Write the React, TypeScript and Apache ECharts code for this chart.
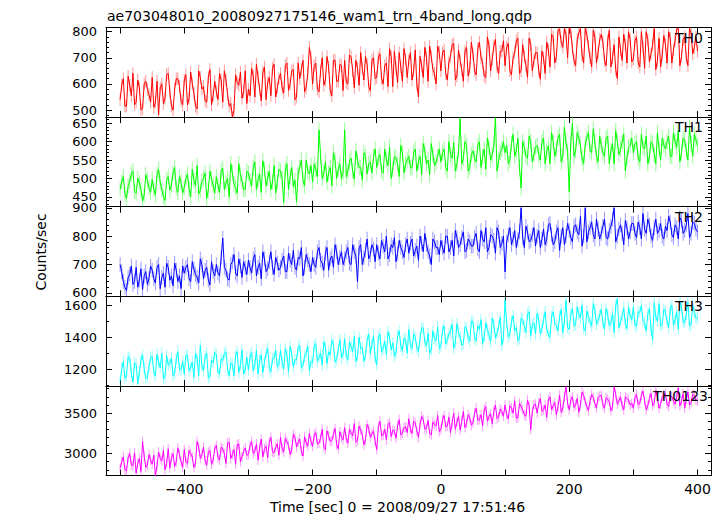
import { useEffect, useRef } from "react";
import * as echarts from "echarts";

const titleText = "ae703048010_20080927175146_wam1_trn_4band_long.qdp";
const xName = "Time [sec] 0 = 2008/09/27 17:51:46";
const yName = "Counts/sec";
const bands = ["TH0", "TH1", "TH2", "TH3", "TH0123"];
const colors = ["#ff0000", "#00ff00", "#0000ff", "#00ffff", "#ff00ff"];
// samples at t = -500, -495, ... (main) and t = -497.5, -492.5, ... (mid)
const tStart = -500;
const tStep = 5;

const th0 = [
  540, 620, 515, 595, 640, 530, 585, 505, 610, 560,
  625, 530, 482, 600, 545, 640, 515, 580, 620, 535,
  615, 520, 645, 565, 505, 625, 590, 530, 655, 555,
  570, 640, 530, 615, 515, 472, 635, 595, 545, 650,
  580, 660, 550, 625, 535, 665, 605, 555, 675, 585,
  640, 565, 680, 600, 655, 550, 620, 690, 585, 740,
  600, 680, 570, 700, 615, 665, 555, 690, 610, 670,
  690, 600, 705, 585, 660, 720, 615, 675, 575, 700,
  625, 715, 600, 680, 735, 590, 660, 720, 610, 695,
  690, 615, 730, 550, 670, 740, 610, 705, 640, 745,
  650, 730, 615, 705, 755, 630, 690, 610, 740, 660,
  715, 635, 760, 680, 625, 745, 695, 770, 640, 725,
  670, 755, 635, 720, 775, 650, 705, 625, 750, 690,
  720, 618, 700, 760, 665, 780, 705, 810, 740, 790,
  815, 735, 670, 795, 710, 812, 745, 665, 780, 720,
  790, 690, 765, 665, 750, 620, 730, 790, 680, 770,
  695, 780, 665, 740, 800, 685, 750, 655, 775, 710,
  750, 800, 680, 765, 812, 705, 780, 670, 795, 740,
  725,
];
const th0Mid = [
  595, 515, 630, 555, 520, 615, 500, 600, 580, 530,
  510, 610, 585, 525, 635, 570, 500, 620, 590, 520,
  635, 545, 600, 515, 650, 580, 535, 625, 520, 610,
  540, 615, 650, 560, 525, 500, 605, 645, 570, 525,
  555, 630, 675, 580, 645, 540, 625, 660, 550, 620,
  585, 670, 575, 650, 540, 680, 655, 570, 640, 700,
  670, 580, 650, 595, 705, 575, 690, 610, 675, 575,
  605, 710, 650, 690, 595, 660, 705, 590, 690, 620,
  700, 620, 670, 590, 705, 725, 605, 665, 735, 625,
  720, 650, 600, 705, 625, 700, 745, 655, 600, 720,
  720, 640, 685, 750, 615, 730, 655, 725, 630, 760,
  650, 735, 700, 630, 780, 650, 745, 665, 725, 765,
  740, 650, 700, 765, 640, 750, 670, 775, 650, 720,
  650, 725, 640, 730, 790, 680, 805, 760, 812, 700,
  800, 690, 770, 812, 680, 790, 700, 805, 680, 770,
  760, 670, 805, 700, 655, 780, 690, 750, 800, 685,
  765, 680, 800, 660, 770, 715, 812, 690, 665, 785,
  680, 775, 730, 810, 670, 770, 700, 812, 715, 780,
];

const th1 = [
  470, 505, 445, 492, 520, 460, 488, 438, 510, 475,
  498, 455, 525, 470, 440, 505, 482, 530, 462, 490,
  475, 512, 450, 495, 535, 468, 500, 445, 520, 482,
  505, 462, 528, 488, 450, 515, 475, 540, 492, 470,
  515, 480, 545, 495, 462, 525, 500, 470, 535, 490,
  520, 435, 540, 505, 478, 436, 530, 495, 550, 512,
  490, 525, 632, 500, 545, 515, 480, 550, 525, 500,
  632, 520, 555, 498, 548, 530, 570, 512, 545, 560,
  530, 565, 515, 550, 585, 525, 555, 505, 570, 540,
  560, 528, 580, 545, 510, 575, 550, 595, 535, 560,
  545, 580, 520, 565, 598, 540, 663, 555, 590, 530,
  575, 545, 600, 560, 525, 585, 565, 665, 550, 580,
  570, 540, 595, 560, 610, 474, 585, 555, 600, 565,
  590, 550, 610, 575, 540, 600, 580, 620, 560, 595,
  464, 650, 575, 610, 555, 595, 625, 570, 600, 545,
  590, 560, 615, 575, 540, 600, 580, 620, 555, 590,
  570, 600, 545, 585, 615, 560, 595, 540, 580, 610,
  580, 615, 560, 600, 630, 570, 605, 550, 595, 620,
  590,
];
const th1Mid = [
  490, 458, 480, 512, 465, 500, 470, 455, 495, 462,
  470, 510, 488, 450, 495, 468, 515, 475, 505, 460,
  500, 470, 525, 480, 458, 492, 515, 470, 498, 460,
  480, 520, 470, 500, 540, 485, 460, 510, 470, 520,
  495, 530, 470, 512, 548, 480, 520, 490, 460, 525,
  500, 525, 470, 530, 495, 515, 550, 480, 520, 535,
  540, 505, 560, 515, 490, 530, 570, 500, 540, 515,
  505, 545, 520, 575, 530, 495, 560, 540, 515, 580,
  555, 520, 580, 535, 500, 560, 540, 590, 515, 550,
  530, 570, 520, 560, 595, 540, 510, 565, 545, 580,
  570, 530, 600, 555, 520, 575, 540, 600, 520, 565,
  555, 590, 530, 580, 610, 550, 590, 520, 570, 600,
  590, 550, 620, 575, 530, 600, 560, 615, 545, 585,
  565, 600, 540, 590, 625, 560, 610, 545, 640, 575,
  600, 560, 625, 590, 540, 610, 575, 635, 560, 615,
  570, 610, 540, 595, 630, 565, 600, 520, 585, 610,
  595, 555, 620, 580, 540, 600, 565, 625, 550, 590,
  600, 560, 625, 585, 545, 610, 575, 640, 560, 605,
];

const th2 = [
  700, 640, 608, 665, 630, 690, 645, 612, 675, 650,
  680, 635, 700, 655, 620, 690, 660, 705, 640, 615,
  670, 700, 640, 685, 655, 720, 650, 690, 628, 675,
  700, 660, 793, 680, 645, 710, 670, 720, 655, 690,
  715, 670, 735, 690, 650, 720, 685, 745, 665, 705,
  690, 730, 675, 715, 750, 680, 720, 660, 735, 700,
  725, 690, 760, 705, 740, 680, 730, 770, 700, 745,
  720, 760, 700, 745, 639, 770, 725, 790, 735, 755,
  770, 720, 765, 800, 735, 760, 710, 785, 745, 770,
  740, 790, 750, 715, 775, 810, 745, 700, 780, 760,
  785, 740, 800, 760, 730, 795, 770, 815, 750, 780,
  765, 810, 745, 790, 830, 760, 800, 740, 815, 775,
  674, 805, 770, 820, 790, 900, 760, 815, 785, 830,
  800, 760, 825, 790, 845, 770, 815, 750, 830, 800,
  820, 780, 840, 805, 765, 900, 815, 850, 790, 825,
  810, 860, 790, 835, 900, 800, 840, 770, 830, 815,
  845, 795, 830, 880, 810, 840, 785, 860, 820, 800,
  835, 870, 805, 840, 790, 855, 820, 880, 810, 845,
  815,
];
const th2Mid = [
  675, 620, 655, 695, 640, 620, 685, 660, 630, 695,
  650, 690, 615, 670, 705, 645, 625, 680, 660, 695,
  690, 650, 710, 665, 635, 700, 680, 645, 710, 660,
  670, 725, 690, 650, 700, 735, 660, 695, 710, 665,
  690, 720, 660, 705, 745, 675, 710, 690, 725, 680,
  715, 675, 740, 700, 690, 725, 760, 690, 715, 675,
  700, 745, 715, 680, 760, 720, 690, 745, 725, 700,
  745, 705, 770, 730, 760, 700, 750, 720, 770, 710,
  740, 785, 745, 720, 770, 795, 740, 760, 725, 790,
  775, 730, 765, 800, 745, 770, 730, 790, 760, 735,
  760, 800, 745, 785, 820, 760, 795, 745, 790, 765,
  795, 755, 820, 780, 745, 805, 785, 830, 760, 800,
  780, 830, 790, 760, 815, 795, 835, 780, 805, 765,
  820, 790, 770, 840, 805, 780, 830, 800, 770, 845,
  795, 835, 815, 870, 800, 780, 830, 805, 860, 790,
  835, 795, 820, 860, 780, 825, 810, 855, 790, 845,
  810, 850, 790, 825, 860, 800, 830, 810, 845, 790,
  820, 850, 795, 830, 865, 810, 840, 795, 850, 825,
];

const th3 = [
  1130, 1250, 1160, 1270, 1120, 1230, 1185, 1290, 1140, 1215,
  1280, 1160, 1245, 1300, 1150, 1225, 1270, 1175, 1310, 1195,
  1170, 1285, 1210, 1150, 1265, 1350, 1190, 1300, 1155, 1240,
  1290, 1170, 1255, 1310, 1160, 1230, 1285, 1180, 1320, 1200,
  1195, 1305, 1230, 1170, 1290, 1245, 1330, 1185, 1270, 1215,
  1320, 1200, 1290, 1345, 1215, 1260, 1350, 1225, 1300, 1190,
  1240, 1360, 1275, 1225, 1340, 1310, 1380, 1245, 1325, 1270,
  1390, 1260, 1345, 1405, 1280, 1330, 1250, 1380, 1300, 1410,
  1228, 1420, 1330, 1290, 1400, 1365, 1300, 1440, 1315, 1385,
  1450, 1330, 1400, 1310, 1460, 1370, 1425, 1320, 1390, 1465,
  1340, 1470, 1385, 1440, 1330, 1485, 1400, 1360, 1455, 1375,
  1500, 1380, 1450, 1360, 1490, 1415, 1520, 1395, 1470, 1350,
  1632, 1400, 1500, 1440, 1380, 1520, 1465, 1545, 1410, 1490,
  1550, 1420, 1510, 1445, 1400, 1560, 1475, 1530, 1430, 1632,
  1450, 1580, 1480, 1545, 1600, 1440, 1525, 1470, 1570, 1505,
  1575, 1450, 1540, 1490, 1430, 1640, 1500, 1585, 1455, 1535,
  1590, 1470, 1555, 1500, 1440, 1580, 1383, 1525, 1610, 1480,
  1560, 1460, 1600, 1510, 1450, 1590, 1490, 1620, 1480, 1555,
  1520,
];
const th3Mid = [
  1200, 1145, 1280, 1175, 1240, 1110, 1260, 1205, 1150, 1275,
  1180, 1295, 1210, 1140, 1285, 1235, 1160, 1265, 1200, 1250,
  1290, 1190, 1245, 1300, 1160, 1220, 1280, 1145, 1255, 1305,
  1185, 1265, 1300, 1200, 1240, 1160, 1310, 1225, 1170, 1275,
  1280, 1190, 1320, 1255, 1180, 1300, 1210, 1265, 1320, 1230,
  1240, 1330, 1185, 1295, 1260, 1335, 1210, 1280, 1345, 1250,
  1345, 1250, 1300, 1370, 1235, 1290, 1355, 1260, 1385, 1295,
  1280, 1370, 1310, 1250, 1400, 1335, 1290, 1420, 1355, 1270,
  1400, 1310, 1375, 1435, 1320, 1280, 1410, 1345, 1395, 1300,
  1350, 1420, 1335, 1395, 1455, 1345, 1300, 1440, 1380, 1330,
  1445, 1360, 1420, 1480, 1370, 1430, 1350, 1465, 1395, 1500,
  1395, 1470, 1510, 1405, 1445, 1370, 1480, 1425, 1525, 1400,
  1490, 1420, 1535, 1460, 1395, 1510, 1430, 1560, 1480, 1420,
  1510, 1455, 1560, 1420, 1530, 1485, 1440, 1575, 1500, 1460,
  1545, 1470, 1590, 1520, 1455, 1565, 1495, 1610, 1480, 1540,
  1490, 1580, 1470, 1550, 1600, 1460, 1530, 1480, 1590, 1510,
  1475, 1560, 1600, 1490, 1545, 1455, 1615, 1500, 1470, 1575,
  1500, 1580, 1475, 1560, 1620, 1495, 1545, 1470, 1605, 1520,
];

const th0123 = [
  2820, 2960, 2790, 3000, 2850, 2760, 2940, 3150, 2830, 2990,
  2870, 2725, 3020, 2910, 2800, 3060, 2950, 2840, 3070, 2900,
  3050, 2880, 3000, 2830, 3150, 2940, 3080, 2860, 3040, 2920,
  3100, 2920, 3060, 2880, 3140, 2990, 2870, 3120, 2960, 3070,
  2990, 3150, 3030, 2920, 3180, 3060, 2950, 3200, 3010, 3120,
  3200, 3020, 3150, 2990, 3240, 3080, 3180, 2970, 3130, 3250,
  3090, 3260, 3130, 3300, 3050, 3220, 3160, 3310, 3060, 3200,
  3320, 3130, 3250, 3370, 3160, 3290, 3110, 3360, 3200, 3280,
  3050, 3400, 3230, 3170, 3380, 3290, 3190, 3420, 3250, 3330,
  3430, 3250, 3380, 3200, 3460, 3300, 3410, 3230, 3360, 3470,
  3300, 3470, 3340, 3260, 3500, 3390, 3290, 3520, 3370, 3440,
  3380, 3560, 3420, 3340, 3580, 3460, 3370, 3600, 3450, 3520,
  3600, 3430, 3560, 3650, 3440, 3580, 3480, 3660, 3295, 3600,
  3500, 3680, 3540, 3450, 3700, 3590, 3480, 3720, 3560, 3827,
  3540, 3700, 3600, 3510, 3760, 3640, 3530, 3730, 3620, 3690,
  3720, 3560, 3670, 3530, 3820, 3610, 3700, 3540, 3680, 3600,
  3560, 3730, 3620, 3770, 3540, 3680, 3590, 3780, 3560, 3700,
  3740, 3580, 3700, 3610, 3810, 3650, 3560, 3760, 3630, 3720,
  3650,
];
const th0123Mid = [
  2900, 2800, 2950, 2860, 3010, 2880, 2780, 2970, 2860, 2920,
  2980, 2850, 2940, 3040, 2880, 2820, 3000, 2900, 2990, 2830,
  2900, 3040, 2960, 2880, 3080, 2990, 2910, 3020, 2870, 3060,
  2950, 3080, 3000, 3130, 2940, 3050, 3110, 2900, 3030, 2980,
  3100, 3000, 3120, 3070, 2960, 3090, 3140, 3020, 3080, 2980,
  3060, 3190, 3100, 3050, 3200, 3140, 3030, 3210, 3090, 3150,
  3230, 3120, 3190, 3080, 3280, 3150, 3240, 3110, 3270, 3170,
  3180, 3300, 3220, 3140, 3340, 3230, 3170, 3310, 3250, 3150,
  3330, 3220, 3300, 3360, 3210, 3280, 3340, 3230, 3320, 3260,
  3300, 3400, 3280, 3360, 3420, 3310, 3250, 3390, 3340, 3270,
  3420, 3330, 3450, 3380, 3300, 3460, 3400, 3320, 3480, 3350,
  3500, 3410, 3480, 3540, 3400, 3490, 3520, 3430, 3550, 3460,
  3480, 3590, 3500, 3440, 3620, 3540, 3460, 3590, 3520, 3610,
  3620, 3520, 3600, 3660, 3540, 3630, 3580, 3510, 3700, 3620,
  3660, 3570, 3680, 3600, 3720, 3580, 3650, 3690, 3560, 3710,
  3600, 3690, 3640, 3580, 3730, 3650, 3590, 3700, 3660, 3620,
  3690, 3600, 3720, 3650, 3590, 3740, 3630, 3690, 3610, 3720,
  3610, 3720, 3650, 3700, 3590, 3740, 3670, 3600, 3730, 3660,
];

const mainValues = [th0, th1, th2, th3, th0123];
const midValues = [th0Mid, th1Mid, th2Mid, th3Mid, th0123Mid];
const errs = [24, 21, 26, 36, 60];

const xRange = [-522, 421];
const xTicks = [-500, -400, -300, -200, -100, 0, 100, 200, 300, 400];
const xLabels = [-400, -200, 0, 200, 400];

const yRanges = [
  [473, 816],
  [423, 667],
  [588, 904],
  [1096, 1656],
  [2730, 3835],
];
const yMajor = [
  [500, 600, 700, 800],
  [450, 500, 550, 600, 650],
  [600, 700, 800, 900],
  [1200, 1400, 1600],
  [3000, 3500],
];
const yMinorStep = [20, 10, 20, 100, 100];

const FONT = "DejaVu Sans";
const LEFT = 106;
const RIGHT_EDGE = 711;
const TOP0 = 27.5;
const PH = 89.6;
const W = 723;
const H = 516;

function minorTicks(i: number): number[] {
  const [lo, hi] = yRanges[i];
  const s = yMinorStep[i];
  const out: number[] = [];
  for (let v = Math.ceil(lo / s) * s; v <= hi; v += s) out.push(v);
  return out;
}

function fmtX(v: number): string {
  return v < 0 ? "\u2212" + Math.abs(v) : String(v);
}

function buildData(i: number): number[][] {
  const a = mainValues[i];
  const b = midValues[i];
  const out: number[][] = [];
  for (let k = 0; k < a.length; k++) {
    out.push([tStart + k * tStep, a[k]]);
    if (k < b.length) out.push([tStart + k * tStep + tStep / 2, b[k]]);
  }
  return out;
}

export default function App() {
  const ref = useRef<HTMLDivElement>(null);
  useEffect(() => {
    if (!ref.current) return;
    const chart = echarts.init(ref.current, null, { renderer: "svg" });
    const grids: any[] = [];
    const xAxes: any[] = [];
    const yAxes: any[] = [];
    const series: any[] = [];
    const graphics: any[] = [];
    const lineColor = "#000";

    for (let i = 0; i < 5; i++) {
      const top = TOP0 + i * PH;
      grids.push({ left: LEFT, width: RIGHT_EDGE - LEFT, top, height: PH });
      const last = i === 4;
      const xBase = {
        type: "value",
        gridIndex: i,
        min: xRange[0],
        max: xRange[1],
        splitLine: { show: false },
        axisLine: { show: true, onZero: false, lineStyle: { color: lineColor, width: 1 } },
        axisTick: { show: true, inside: true, length: 6, customValues: xTicks, lineStyle: { color: lineColor } },
      };
      xAxes.push({
        ...xBase,
        position: "bottom",
        axisLabel: last
          ? { show: true, customValues: xLabels, formatter: fmtX, color: "#000", fontFamily: FONT, fontSize: 14, margin: 6 }
          : { show: false },
      });
      xAxes.push({ ...xBase, position: "top", axisLabel: { show: false } });

      const [lo, hi] = yRanges[i];
      const yBase = {
        type: "value",
        gridIndex: i,
        min: lo,
        max: hi,
        splitLine: { show: false },
      };
      for (const pos of ["left", "right"]) {
        yAxes.push({
          ...yBase,
          position: pos,
          axisLine: { show: true, onZero: false, lineStyle: { color: lineColor, width: 1 } },
          axisTick: { show: true, inside: true, length: 6, customValues: yMajor[i], lineStyle: { color: lineColor } },
          axisLabel:
            pos === "left"
              ? {
                  show: true,
                  customValues: yMajor[i],
                  formatter: (v: number) => String(v),
                  color: "#000",
                  fontFamily: FONT,
                  fontSize: 13,
                  lineHeight: 12,
                  margin: 9,
                }
              : { show: false },
        });
        yAxes.push({
          ...yBase,
          position: pos,
          axisLine: { show: false, onZero: false },
          axisTick: { show: true, inside: true, length: 3, customValues: minorTicks(i), lineStyle: { color: lineColor } },
          axisLabel: { show: false },
        });
      }

      const data = buildData(i);
      const err = errs[i];
      const col = colors[i];
      series.push({
        type: "custom",
        xAxisIndex: 2 * i,
        yAxisIndex: 4 * i,
        data,
        z: 1,
        silent: true,
        renderItem: (params: any, api: any) => {
          const t = api.value(0);
          const v = api.value(1);
          const p1 = api.coord([t, v - err]);
          const p2 = api.coord([t, v + err]);
          return {
            type: "line",
            shape: { x1: p1[0], y1: p1[1], x2: p2[0], y2: p2[1] },
            style: { stroke: col, opacity: 0.4, lineWidth: 1 },
          };
        },
        clip: true,
      });
      series.push({
        type: "line",
        name: bands[i],
        xAxisIndex: 2 * i,
        yAxisIndex: 4 * i,
        data,
        showSymbol: false,
        symbol: "none",
        z: 2,
        lineStyle: { color: col, width: 1 },
        itemStyle: { color: col },
        clip: true,
      });

      graphics.push({
        type: "text",
        x: i === 4 ? 708 : 703,
        y: top + 10,
        style: {
          text: bands[i],
          fill: "#000",
          font: `14px '${FONT}'`,
          align: "right",
          verticalAlign: "middle",
        },
        z: 10,
      });
    }

    graphics.push({
      type: "text",
      x: 107,
      y: 15.5,
      style: { text: titleText, fill: "#000", font: `14px '${FONT}'`, align: "left", verticalAlign: "middle" },
    });
    graphics.push({
      type: "text",
      x: 41,
      y: 252,
      rotation: Math.PI / 2,
      style: { text: yName, fill: "#000", font: `14px '${FONT}'`, align: "center", verticalAlign: "middle" },
    });
    graphics.push({
      type: "text",
      x: 397.5,
      y: 507,
      style: { text: xName, fill: "#000", font: `14px '${FONT}'`, align: "center", verticalAlign: "middle" },
    });

    chart.setOption({
      animation: false,
      backgroundColor: "#fff",
      grid: grids,
      xAxis: xAxes,
      yAxis: yAxes,
      series,
      graphic: graphics,
    });
    return () => chart.dispose();
  }, []);
  return (
    <div
      ref={ref}
      style={{ position: "fixed", left: 0, top: 0, width: W, height: H }}
    />
  );
}
